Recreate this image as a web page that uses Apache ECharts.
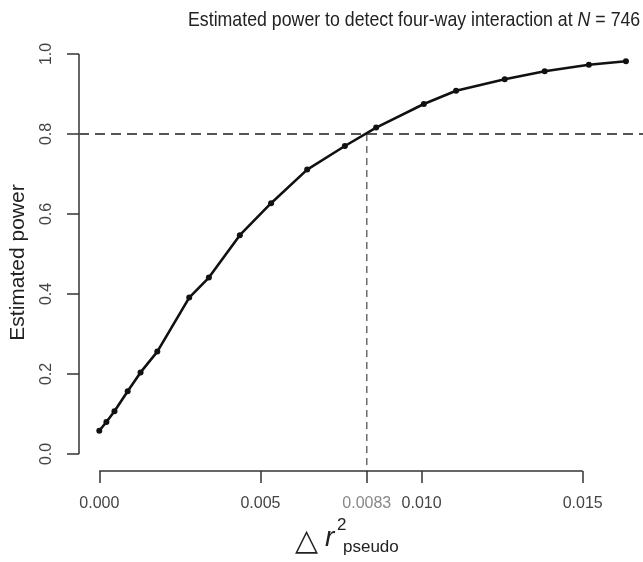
<!DOCTYPE html>
<html><head><meta charset="utf-8">
<script src="https://cdn.jsdelivr.net/npm/echarts@6/dist/echarts.min.js"></script>
<style>html,body{margin:0;padding:0;background:#fff}#c{width:643px;height:562px}</style>
</head><body><div id="c"></div>
<script>
const deltaR2 = [0, 0.00022, 0.00047, 0.00088, 0.00128, 0.00180, 0.00279, 0.00340, 0.00436, 0.00533, 0.00645, 0.00762, 0.00859, 0.01007, 0.01107, 0.01258, 0.01382, 0.01519, 0.01634];
const power = [0.058, 0.080, 0.107, 0.157, 0.204, 0.256, 0.391, 0.441, 0.547, 0.627, 0.711, 0.770, 0.816, 0.875, 0.908, 0.937, 0.957, 0.973, 0.982];
const xTickValues = [0, 0.005, 0.0083, 0.010, 0.015];
const xTickLabels = ['0.000', '0.005', '0.0083', '0.010', '0.015'];
const yTickValues = [0, 0.2, 0.4, 0.6, 0.8, 1.0];
const yTickLabels = ['0.0', '0.2', '0.4', '0.6', '0.8', '1.0'];
const targetPower = 0.8;
const deltaAtTarget = 0.0083;
const xRange = [-0.00063, 0.01687];
const yRange = [-0.0425, 1];

const FONT = "'Liberation Sans',Arial,sans-serif";
const pts = deltaR2.map((x, i) => [x, power[i]]);
function lab(vals, labels, v) {
  let best = 0;
  vals.forEach((t, i) => { if (Math.abs(t - v) < Math.abs(vals[best] - v)) best = i; });
  return labels[best];
}
const chart = echarts.init(document.getElementById('c'));
chart.setOption({
  animation: false,
  backgroundColor: '#fff',
  grid: { left: 75.7, right: 0, top: 54, bottom: 91 },
  xAxis: {
    type: 'value', min: xRange[0], max: xRange[1],
    axisLine: { show: false, onZero: false },
    splitLine: { show: false },
    axisTick: { show: true, length: 12, customValues: xTickValues, lineStyle: { color: '#333', width: 1.5 } },
    axisLabel: {
      customValues: xTickValues, margin: 25, fontFamily: FONT, fontSize: 16, color: '#444',
      formatter: v => {
        const s = lab(xTickValues, xTickLabels, v);
        return s === '0.0083' ? '{g|' + s + '}' : s;
      },
      rich: { g: { fontFamily: FONT, fontSize: 16, color: '#888' } }
    }
  },
  yAxis: {
    type: 'value', min: yRange[0], max: yRange[1],
    axisLine: { show: false, onZero: false },
    splitLine: { show: false },
    axisTick: { show: true, length: 12, customValues: yTickValues, lineStyle: { color: '#333', width: 1.5 } },
    axisLabel: {
      customValues: yTickValues, rotate: 90, margin: 24, fontFamily: FONT, fontSize: 16, color: '#444',
      formatter: v => lab(yTickValues, yTickLabels, v)
    },
    name: 'Estimated power', nameLocation: 'middle', nameGap: 50, nameRotate: 90,
    nameTextStyle: { fontFamily: FONT, fontSize: 21, color: '#222' }
  },
  graphic: [
    { type: 'text', x: 188, y: 10, scaleX: 0.845,
      style: { text: 'Estimated power to detect four-way interaction at {i|N} = 746',
        fontFamily: FONT, fontSize: 21, fill: '#222',
        rich: { i: { fontFamily: FONT, fontSize: 21, fontStyle: 'italic', fill: '#222' } } } },
    { type: 'text', left: 295, top: 527, style: { text: '\u25B3', fontFamily: "'DejaVu Sans',sans-serif", fontSize: 30, fill: '#222' } },
    { type: 'text', left: 325, top: 524, style: { text: 'r', fontFamily: FONT, fontStyle: 'italic', fontSize: 28, fill: '#222' } },
    { type: 'text', left: 337, top: 517, style: { text: '2', fontFamily: FONT, fontSize: 17, fill: '#222' } },
    { type: 'text', left: 343, top: 539, style: { text: 'pseudo', fontFamily: FONT, fontSize: 17, fill: '#222' } }
  ],
  series: [
    { type: 'line', silent: true, clip: false, symbol: 'none',
      data: [[0, yRange[0]], [0.015, yRange[0]]],
      lineStyle: { color: '#333', width: 1.5 } },
    { type: 'line', silent: true, clip: false, symbol: 'none',
      data: [[xRange[0], 0], [xRange[0], 1]],
      lineStyle: { color: '#333', width: 1.5 } },
    { type: 'line', silent: true, symbol: 'none',
      data: [[xRange[0], targetPower], [xRange[1], targetPower]],
      lineStyle: { color: '#555', width: 2, type: [10, 6] } },
    { type: 'line', silent: true, symbol: 'none',
      data: [[deltaAtTarget, targetPower], [deltaAtTarget, yRange[0]]],
      lineStyle: { color: '#555', width: 1.3, type: [7, 5] } },
    { type: 'line', data: pts, symbol: 'circle', symbolSize: 6,
      itemStyle: { color: '#111' }, lineStyle: { color: '#111', width: 2.6 } }
  ]
});
</script></body></html>
